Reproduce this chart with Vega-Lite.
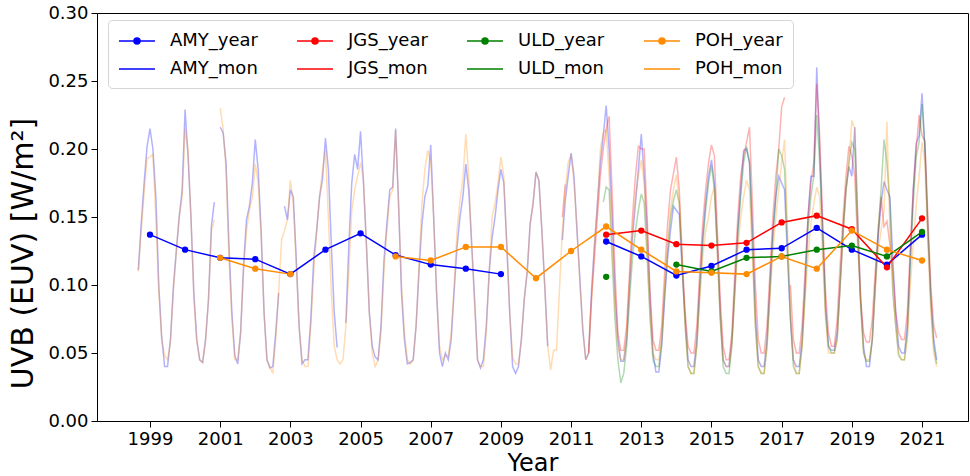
{
  "$schema": "https://vega.github.io/schema/vega-lite/v6.json",
  "width": 871,
  "height": 408,
  "autosize": "none",
  "padding": {"left": 97, "top": 13, "right": 2, "bottom": 55},
  "background": "white",
  "config": {
    "font": "DejaVu Sans",
    "view": {"stroke": "#000000", "strokeWidth": 1},
    "axis": {"grid": false, "domainColor": "#000000", "tickColor": "#000000", "labelColor": "#000000", "titleColor": "#000000", "labelFontSize": 18, "titleFontSize": 24, "titleFontWeight": "normal", "tickSize": 6, "labelFont": "DejaVu Sans", "titleFont": "DejaVu Sans"}
  },
  "datasets": {
    "mon": [
      {"t":1998.667,"AMY_mon":0.111,"POH_mon":0.110},
      {"t":1998.75,"AMY_mon":0.145,"POH_mon":0.140},
      {"t":1998.833,"AMY_mon":0.175,"POH_mon":0.168},
      {"t":1998.917,"AMY_mon":0.202,"POH_mon":0.193},
      {"t":1999,"AMY_mon":0.215,"POH_mon":0.194},
      {"t":1999.083,"AMY_mon":0.200,"POH_mon":0.196},
      {"t":1999.167,"AMY_mon":0.165,"POH_mon":0.150},
      {"t":1999.25,"AMY_mon":0.100,"POH_mon":0.095},
      {"t":1999.333,"AMY_mon":0.062,"POH_mon":0.060},
      {"t":1999.417,"AMY_mon":0.040,"POH_mon":0.048},
      {"t":1999.5,"AMY_mon":0.040,"POH_mon":0.045},
      {"t":1999.583,"AMY_mon":0.060,"POH_mon":0.058},
      {"t":1999.667,"AMY_mon":0.099,"POH_mon":0.095},
      {"t":1999.75,"AMY_mon":0.125,"POH_mon":0.125},
      {"t":1999.833,"AMY_mon":0.150,"POH_mon":0.150},
      {"t":1999.917,"AMY_mon":0.170,"POH_mon":0.165},
      {"t":2000,"AMY_mon":0.229,"POH_mon":0.215},
      {"t":2000.083,"AMY_mon":0.195,"POH_mon":0.200},
      {"t":2000.167,"AMY_mon":0.150,"POH_mon":0.150},
      {"t":2000.25,"AMY_mon":0.094,"POH_mon":0.090},
      {"t":2000.333,"AMY_mon":0.060,"POH_mon":0.058},
      {"t":2000.417,"AMY_mon":0.045,"POH_mon":0.045},
      {"t":2000.5,"AMY_mon":0.043,"POH_mon":0.043},
      {"t":2000.583,"AMY_mon":0.060,"POH_mon":0.058},
      {"t":2000.667,"AMY_mon":0.089,"POH_mon":0.090},
      {"t":2000.75,"AMY_mon":0.143,"POH_mon":0.140},
      {"t":2000.833,"AMY_mon":0.161,"POH_mon":0.148},
      {"t":2000.917,"AMY_mon":null,"POH_mon":null},
      {"t":2001,"AMY_mon":0.216,"POH_mon":0.230},
      {"t":2001.083,"AMY_mon":0.212,"POH_mon":0.215},
      {"t":2001.167,"AMY_mon":0.190,"POH_mon":0.185},
      {"t":2001.25,"AMY_mon":0.130,"POH_mon":0.120},
      {"t":2001.333,"AMY_mon":0.080,"POH_mon":0.075},
      {"t":2001.417,"AMY_mon":0.048,"POH_mon":0.045},
      {"t":2001.5,"AMY_mon":0.042,"POH_mon":0.045},
      {"t":2001.583,"AMY_mon":0.065,"POH_mon":0.065},
      {"t":2001.667,"AMY_mon":0.115,"POH_mon":0.110},
      {"t":2001.75,"AMY_mon":0.148,"POH_mon":0.140},
      {"t":2001.833,"AMY_mon":0.158,"POH_mon":0.155},
      {"t":2001.917,"AMY_mon":0.175,"POH_mon":0.165},
      {"t":2002,"AMY_mon":0.207,"POH_mon":0.189},
      {"t":2002.083,"AMY_mon":0.185,"POH_mon":0.175},
      {"t":2002.167,"AMY_mon":0.140,"POH_mon":0.135},
      {"t":2002.25,"AMY_mon":0.080,"POH_mon":0.080},
      {"t":2002.333,"AMY_mon":0.045,"POH_mon":0.045},
      {"t":2002.417,"AMY_mon":0.039,"POH_mon":0.040},
      {"t":2002.5,"AMY_mon":0.040,"POH_mon":0.035},
      {"t":2002.583,"AMY_mon":0.065,"POH_mon":0.060},
      {"t":2002.667,"AMY_mon":0.094,"POH_mon":0.095},
      {"t":2002.75,"AMY_mon":null,"POH_mon":0.133},
      {"t":2002.833,"AMY_mon":0.158,"POH_mon":0.140},
      {"t":2002.917,"AMY_mon":0.148,"POH_mon":0.148},
      {"t":2003,"AMY_mon":0.170,"POH_mon":0.177},
      {"t":2003.083,"AMY_mon":0.165,"POH_mon":0.160},
      {"t":2003.167,"AMY_mon":0.120,"POH_mon":0.115},
      {"t":2003.25,"AMY_mon":0.069,"POH_mon":0.070},
      {"t":2003.333,"AMY_mon":0.042,"POH_mon":0.045},
      {"t":2003.417,"AMY_mon":0.045,"POH_mon":0.040},
      {"t":2003.5,"AMY_mon":0.045,"POH_mon":0.040},
      {"t":2003.583,"AMY_mon":0.075,"POH_mon":0.070},
      {"t":2003.667,"AMY_mon":0.120,"POH_mon":0.110},
      {"t":2003.75,"AMY_mon":0.140,"POH_mon":0.140},
      {"t":2003.833,"AMY_mon":0.165,"POH_mon":0.165},
      {"t":2003.917,"AMY_mon":0.178,"POH_mon":0.185},
      {"t":2004,"AMY_mon":0.208,"POH_mon":0.199},
      {"t":2004.083,"AMY_mon":0.185,"POH_mon":0.150},
      {"t":2004.167,"AMY_mon":0.130,"POH_mon":0.095},
      {"t":2004.25,"AMY_mon":0.080,"POH_mon":0.055},
      {"t":2004.333,"AMY_mon":0.054,"POH_mon":0.045},
      {"t":2004.417,"AMY_mon":null,"POH_mon":0.042},
      {"t":2004.5,"AMY_mon":null,"POH_mon":0.045},
      {"t":2004.583,"AMY_mon":0.072,"POH_mon":0.070},
      {"t":2004.667,"AMY_mon":0.130,"POH_mon":0.110},
      {"t":2004.75,"AMY_mon":0.175,"POH_mon":0.155},
      {"t":2004.833,"AMY_mon":0.196,"POH_mon":0.170},
      {"t":2004.917,"AMY_mon":0.185,"POH_mon":0.180},
      {"t":2005,"AMY_mon":0.213,"POH_mon":0.190},
      {"t":2005.083,"AMY_mon":0.175,"POH_mon":0.178},
      {"t":2005.167,"AMY_mon":0.130,"POH_mon":0.130},
      {"t":2005.25,"AMY_mon":0.080,"POH_mon":0.080},
      {"t":2005.333,"AMY_mon":0.055,"POH_mon":0.050},
      {"t":2005.417,"AMY_mon":0.047,"POH_mon":0.040},
      {"t":2005.5,"AMY_mon":0.045,"POH_mon":0.045},
      {"t":2005.583,"AMY_mon":0.070,"POH_mon":0.065},
      {"t":2005.667,"AMY_mon":0.118,"POH_mon":0.110},
      {"t":2005.75,"AMY_mon":0.145,"POH_mon":0.140},
      {"t":2005.833,"AMY_mon":0.170,"POH_mon":0.165},
      {"t":2005.917,"AMY_mon":0.172,"POH_mon":0.170},
      {"t":2006,"AMY_mon":0.215,"POH_mon":0.214},
      {"t":2006.083,"AMY_mon":0.160,"POH_mon":0.160},
      {"t":2006.167,"AMY_mon":0.094,"POH_mon":0.100},
      {"t":2006.25,"AMY_mon":0.060,"POH_mon":0.065},
      {"t":2006.333,"AMY_mon":0.042,"POH_mon":0.045},
      {"t":2006.417,"AMY_mon":0.043,"POH_mon":0.042},
      {"t":2006.5,"AMY_mon":0.045,"POH_mon":0.045},
      {"t":2006.583,"AMY_mon":0.070,"POH_mon":0.070},
      {"t":2006.667,"AMY_mon":0.110,"POH_mon":0.115},
      {"t":2006.75,"AMY_mon":0.145,"POH_mon":0.160},
      {"t":2006.833,"AMY_mon":0.165,"POH_mon":0.185},
      {"t":2006.917,"AMY_mon":0.173,"POH_mon":0.199},
      {"t":2007,"AMY_mon":0.203,"POH_mon":0.190},
      {"t":2007.083,"AMY_mon":0.150,"POH_mon":0.150},
      {"t":2007.167,"AMY_mon":0.094,"POH_mon":0.095},
      {"t":2007.25,"AMY_mon":0.050,"POH_mon":0.055},
      {"t":2007.333,"AMY_mon":0.040,"POH_mon":0.045},
      {"t":2007.417,"AMY_mon":0.050,"POH_mon":0.048},
      {"t":2007.5,"AMY_mon":0.045,"POH_mon":0.048},
      {"t":2007.583,"AMY_mon":0.060,"POH_mon":0.065},
      {"t":2007.667,"AMY_mon":0.095,"POH_mon":0.100},
      {"t":2007.75,"AMY_mon":0.128,"POH_mon":0.140},
      {"t":2007.833,"AMY_mon":0.150,"POH_mon":0.162},
      {"t":2007.917,"AMY_mon":0.165,"POH_mon":0.178},
      {"t":2008,"AMY_mon":0.189,"POH_mon":0.211},
      {"t":2008.083,"AMY_mon":0.170,"POH_mon":0.180},
      {"t":2008.167,"AMY_mon":0.130,"POH_mon":0.130},
      {"t":2008.25,"AMY_mon":0.090,"POH_mon":0.085},
      {"t":2008.333,"AMY_mon":0.045,"POH_mon":0.045},
      {"t":2008.417,"AMY_mon":0.039,"POH_mon":0.040},
      {"t":2008.5,"AMY_mon":0.045,"POH_mon":0.040},
      {"t":2008.583,"AMY_mon":0.070,"POH_mon":0.065},
      {"t":2008.667,"AMY_mon":0.110,"POH_mon":0.110},
      {"t":2008.75,"AMY_mon":0.135,"POH_mon":0.150},
      {"t":2008.833,"AMY_mon":0.150,"POH_mon":0.160},
      {"t":2008.917,"AMY_mon":0.170,"POH_mon":0.175},
      {"t":2009,"AMY_mon":0.185,"POH_mon":0.194},
      {"t":2009.083,"AMY_mon":0.175,"POH_mon":0.180},
      {"t":2009.167,"AMY_mon":0.130,"POH_mon":0.130},
      {"t":2009.25,"AMY_mon":0.080,"POH_mon":0.080},
      {"t":2009.333,"AMY_mon":0.040,"POH_mon":0.047},
      {"t":2009.417,"AMY_mon":0.035,"POH_mon":0.042},
      {"t":2009.5,"AMY_mon":0.040,"POH_mon":0.042},
      {"t":2009.583,"AMY_mon":0.060,"POH_mon":0.060},
      {"t":2009.667,"AMY_mon":0.090,"POH_mon":0.090},
      {"t":2009.75,"AMY_mon":0.110,"POH_mon":0.110},
      {"t":2009.833,"AMY_mon":0.145,"POH_mon":0.145},
      {"t":2009.917,"AMY_mon":0.160,"POH_mon":0.160},
      {"t":2010,"AMY_mon":0.183,"POH_mon":0.183},
      {"t":2010.083,"AMY_mon":0.177,"POH_mon":0.177},
      {"t":2010.167,"AMY_mon":0.140,"POH_mon":0.140},
      {"t":2010.25,"AMY_mon":0.099,"POH_mon":0.099},
      {"t":2010.333,"AMY_mon":0.055,"POH_mon":0.055},
      {"t":2010.417,"AMY_mon":null,"POH_mon":0.0375},
      {"t":2010.5,"AMY_mon":null,"POH_mon":0.052},
      {"t":2010.583,"AMY_mon":null,"POH_mon":0.052},
      {"t":2010.667,"AMY_mon":null,"POH_mon":0.096},
      {"t":2010.75,"AMY_mon":0.133,"JGS_mon":0.150,"POH_mon":0.140},
      {"t":2010.833,"AMY_mon":0.162,"JGS_mon":0.174,"POH_mon":0.170},
      {"t":2010.917,"AMY_mon":0.180,"JGS_mon":null,"POH_mon":0.190},
      {"t":2011,"AMY_mon":0.197,"POH_mon":0.196},
      {"t":2011.083,"AMY_mon":0.180,"POH_mon":0.175},
      {"t":2011.167,"AMY_mon":0.140,"POH_mon":0.143},
      {"t":2011.25,"AMY_mon":0.105,"POH_mon":0.100},
      {"t":2011.333,"AMY_mon":0.067,"POH_mon":0.068},
      {"t":2011.417,"AMY_mon":0.045,"POH_mon":0.045},
      {"t":2011.5,"AMY_mon":0.050,"JGS_mon":0.050,"POH_mon":0.050},
      {"t":2011.583,"AMY_mon":0.096,"JGS_mon":0.090,"POH_mon":0.090},
      {"t":2011.667,"AMY_mon":0.130,"JGS_mon":0.120,"POH_mon":0.130},
      {"t":2011.75,"AMY_mon":0.160,"JGS_mon":0.150,"POH_mon":0.158},
      {"t":2011.833,"AMY_mon":0.190,"JGS_mon":0.180,"POH_mon":0.200},
      {"t":2011.917,"AMY_mon":0.210,"JGS_mon":0.200,"ULD_mon":0.161,"POH_mon":0.212},
      {"t":2012,"AMY_mon":0.232,"JGS_mon":0.215,"ULD_mon":0.172,"POH_mon":0.214},
      {"t":2012.083,"AMY_mon":0.200,"JGS_mon":0.224,"ULD_mon":0.170,"POH_mon":0.180},
      {"t":2012.167,"AMY_mon":0.150,"JGS_mon":0.170,"ULD_mon":0.120,"POH_mon":0.130},
      {"t":2012.25,"AMY_mon":0.095,"JGS_mon":0.110,"ULD_mon":0.075,"POH_mon":0.085},
      {"t":2012.333,"AMY_mon":0.060,"JGS_mon":0.065,"ULD_mon":0.045,"POH_mon":0.055},
      {"t":2012.417,"AMY_mon":0.044,"JGS_mon":0.052,"ULD_mon":0.028,"POH_mon":0.045},
      {"t":2012.5,"AMY_mon":0.044,"JGS_mon":0.052,"ULD_mon":0.035,"POH_mon":0.045},
      {"t":2012.583,"AMY_mon":0.060,"JGS_mon":0.070,"ULD_mon":0.055,"POH_mon":0.065},
      {"t":2012.667,"AMY_mon":0.100,"JGS_mon":0.110,"ULD_mon":0.090,"POH_mon":0.105},
      {"t":2012.75,"AMY_mon":0.135,"JGS_mon":0.150,"ULD_mon":0.120,"POH_mon":0.140},
      {"t":2012.833,"AMY_mon":0.160,"JGS_mon":0.180,"ULD_mon":0.140,"POH_mon":0.165},
      {"t":2012.917,"AMY_mon":0.185,"JGS_mon":0.202,"ULD_mon":0.155,"POH_mon":0.180},
      {"t":2013,"AMY_mon":0.211,"JGS_mon":0.200,"ULD_mon":0.167,"POH_mon":0.192},
      {"t":2013.083,"AMY_mon":0.180,"JGS_mon":0.200,"ULD_mon":0.160,"POH_mon":0.175},
      {"t":2013.167,"AMY_mon":0.140,"JGS_mon":0.150,"ULD_mon":0.120,"POH_mon":0.125},
      {"t":2013.25,"AMY_mon":0.090,"JGS_mon":0.095,"ULD_mon":0.075,"POH_mon":0.080},
      {"t":2013.333,"AMY_mon":0.050,"JGS_mon":0.060,"ULD_mon":0.045,"POH_mon":0.050},
      {"t":2013.417,"AMY_mon":0.036,"JGS_mon":0.052,"ULD_mon":0.040,"POH_mon":0.045},
      {"t":2013.5,"AMY_mon":0.036,"JGS_mon":0.052,"ULD_mon":0.040,"POH_mon":0.045},
      {"t":2013.583,"AMY_mon":0.055,"JGS_mon":0.070,"ULD_mon":0.060,"POH_mon":0.060},
      {"t":2013.667,"AMY_mon":0.090,"JGS_mon":0.110,"ULD_mon":0.095,"POH_mon":0.100},
      {"t":2013.75,"AMY_mon":0.120,"JGS_mon":0.145,"ULD_mon":0.125,"POH_mon":0.130},
      {"t":2013.833,"AMY_mon":0.140,"JGS_mon":0.170,"ULD_mon":0.150,"POH_mon":0.155},
      {"t":2013.917,"AMY_mon":0.158,"JGS_mon":0.182,"ULD_mon":0.162,"POH_mon":0.170},
      {"t":2014,"AMY_mon":0.155,"JGS_mon":0.194,"ULD_mon":0.170,"POH_mon":0.181},
      {"t":2014.083,"AMY_mon":0.152,"JGS_mon":0.170,"ULD_mon":0.160,"POH_mon":0.160},
      {"t":2014.167,"AMY_mon":0.110,"JGS_mon":0.120,"ULD_mon":0.115,"POH_mon":0.115},
      {"t":2014.25,"AMY_mon":0.075,"JGS_mon":0.080,"ULD_mon":0.070,"POH_mon":0.070},
      {"t":2014.333,"AMY_mon":0.045,"JGS_mon":0.055,"ULD_mon":0.040,"POH_mon":0.040},
      {"t":2014.417,"AMY_mon":0.040,"JGS_mon":0.050,"ULD_mon":0.035,"POH_mon":0.035},
      {"t":2014.5,"AMY_mon":0.040,"JGS_mon":0.050,"ULD_mon":0.035,"POH_mon":0.035},
      {"t":2014.583,"AMY_mon":0.060,"JGS_mon":0.070,"ULD_mon":0.055,"POH_mon":0.055},
      {"t":2014.667,"AMY_mon":0.100,"JGS_mon":0.110,"ULD_mon":0.095,"POH_mon":0.090},
      {"t":2014.75,"AMY_mon":0.135,"JGS_mon":0.145,"ULD_mon":0.130,"POH_mon":0.120},
      {"t":2014.833,"AMY_mon":0.160,"JGS_mon":0.170,"ULD_mon":0.155,"POH_mon":0.140},
      {"t":2014.917,"AMY_mon":0.180,"JGS_mon":0.190,"ULD_mon":0.175,"POH_mon":0.150},
      {"t":2015,"AMY_mon":0.192,"JGS_mon":0.203,"ULD_mon":0.188,"POH_mon":0.165},
      {"t":2015.083,"AMY_mon":0.175,"JGS_mon":0.195,"ULD_mon":0.170,"POH_mon":0.172},
      {"t":2015.167,"AMY_mon":0.130,"JGS_mon":0.140,"ULD_mon":0.125,"POH_mon":0.125},
      {"t":2015.25,"AMY_mon":0.080,"JGS_mon":0.090,"ULD_mon":0.075,"POH_mon":0.075},
      {"t":2015.333,"AMY_mon":0.045,"JGS_mon":0.055,"ULD_mon":0.040,"POH_mon":0.045},
      {"t":2015.417,"AMY_mon":0.040,"JGS_mon":0.045,"ULD_mon":0.035,"POH_mon":0.040},
      {"t":2015.5,"AMY_mon":0.040,"JGS_mon":0.045,"ULD_mon":0.035,"POH_mon":0.040},
      {"t":2015.583,"AMY_mon":0.060,"JGS_mon":0.065,"ULD_mon":0.055,"POH_mon":0.058},
      {"t":2015.667,"AMY_mon":0.100,"JGS_mon":0.110,"ULD_mon":0.095,"POH_mon":0.095},
      {"t":2015.75,"AMY_mon":0.140,"JGS_mon":0.150,"ULD_mon":0.135,"POH_mon":0.125},
      {"t":2015.833,"AMY_mon":0.170,"JGS_mon":0.180,"ULD_mon":0.165,"POH_mon":0.150},
      {"t":2015.917,"AMY_mon":0.199,"JGS_mon":0.195,"ULD_mon":0.190,"POH_mon":0.165},
      {"t":2016,"AMY_mon":0.200,"JGS_mon":0.205,"ULD_mon":0.202,"POH_mon":0.177},
      {"t":2016.083,"AMY_mon":0.190,"JGS_mon":0.216,"ULD_mon":0.190,"POH_mon":0.170},
      {"t":2016.167,"AMY_mon":0.140,"JGS_mon":0.160,"ULD_mon":0.130,"POH_mon":0.120},
      {"t":2016.25,"AMY_mon":0.080,"JGS_mon":0.100,"ULD_mon":0.070,"POH_mon":0.070},
      {"t":2016.333,"AMY_mon":0.045,"JGS_mon":0.060,"ULD_mon":0.040,"POH_mon":0.040},
      {"t":2016.417,"AMY_mon":0.040,"JGS_mon":0.050,"ULD_mon":0.035,"POH_mon":0.035},
      {"t":2016.5,"AMY_mon":0.040,"JGS_mon":0.050,"ULD_mon":0.035,"POH_mon":0.035},
      {"t":2016.583,"AMY_mon":0.060,"JGS_mon":0.070,"ULD_mon":0.055,"POH_mon":0.055},
      {"t":2016.667,"AMY_mon":0.100,"JGS_mon":0.110,"ULD_mon":0.095,"POH_mon":0.090},
      {"t":2016.75,"AMY_mon":0.140,"JGS_mon":0.150,"ULD_mon":0.135,"POH_mon":0.125},
      {"t":2016.833,"AMY_mon":0.165,"JGS_mon":0.180,"ULD_mon":0.165,"POH_mon":0.150},
      {"t":2016.917,"AMY_mon":0.180,"JGS_mon":0.200,"ULD_mon":0.200,"POH_mon":0.170},
      {"t":2017,"AMY_mon":0.175,"JGS_mon":0.231,"ULD_mon":0.195,"POH_mon":0.190},
      {"t":2017.083,"AMY_mon":0.170,"JGS_mon":0.238,"ULD_mon":0.185,"POH_mon":0.207},
      {"t":2017.167,"AMY_mon":0.120,"JGS_mon":null,"ULD_mon":0.130,"POH_mon":0.140},
      {"t":2017.25,"AMY_mon":0.075,"JGS_mon":0.100,"ULD_mon":0.075,"POH_mon":0.080},
      {"t":2017.333,"AMY_mon":0.045,"JGS_mon":0.060,"ULD_mon":0.040,"POH_mon":0.045},
      {"t":2017.417,"AMY_mon":0.040,"JGS_mon":0.050,"ULD_mon":0.035,"POH_mon":0.035},
      {"t":2017.5,"AMY_mon":0.040,"JGS_mon":0.050,"ULD_mon":0.035,"POH_mon":0.035},
      {"t":2017.583,"AMY_mon":0.060,"JGS_mon":0.070,"ULD_mon":0.055,"POH_mon":0.055},
      {"t":2017.667,"AMY_mon":0.100,"JGS_mon":0.110,"ULD_mon":0.095,"POH_mon":0.090},
      {"t":2017.75,"AMY_mon":0.150,"JGS_mon":0.150,"ULD_mon":0.140,"POH_mon":0.120},
      {"t":2017.833,"AMY_mon":0.180,"JGS_mon":0.175,"ULD_mon":0.165,"POH_mon":0.145},
      {"t":2017.917,"AMY_mon":0.180,"JGS_mon":0.190,"ULD_mon":0.180,"POH_mon":0.160},
      {"t":2018,"AMY_mon":0.260,"JGS_mon":0.248,"ULD_mon":0.225,"POH_mon":0.172},
      {"t":2018.083,"AMY_mon":0.200,"JGS_mon":0.210,"ULD_mon":0.190,"POH_mon":0.165},
      {"t":2018.167,"AMY_mon":0.140,"JGS_mon":0.150,"ULD_mon":0.135,"POH_mon":0.120},
      {"t":2018.25,"AMY_mon":0.085,"JGS_mon":0.095,"ULD_mon":0.080,"POH_mon":0.075},
      {"t":2018.333,"AMY_mon":0.055,"JGS_mon":0.065,"ULD_mon":0.055,"POH_mon":0.050},
      {"t":2018.417,"AMY_mon":0.052,"JGS_mon":0.055,"ULD_mon":0.050,"POH_mon":0.050},
      {"t":2018.5,"AMY_mon":0.052,"JGS_mon":0.055,"ULD_mon":0.050,"POH_mon":0.050},
      {"t":2018.583,"AMY_mon":0.065,"JGS_mon":0.075,"ULD_mon":0.060,"POH_mon":0.060},
      {"t":2018.667,"AMY_mon":0.100,"JGS_mon":0.115,"ULD_mon":0.100,"POH_mon":0.100},
      {"t":2018.75,"AMY_mon":0.140,"JGS_mon":0.150,"ULD_mon":0.140,"POH_mon":0.135},
      {"t":2018.833,"AMY_mon":0.170,"JGS_mon":0.180,"ULD_mon":0.170,"POH_mon":0.170},
      {"t":2018.917,"AMY_mon":0.187,"JGS_mon":0.202,"ULD_mon":0.190,"POH_mon":0.190},
      {"t":2019,"AMY_mon":0.180,"JGS_mon":0.195,"ULD_mon":0.205,"POH_mon":0.221},
      {"t":2019.083,"AMY_mon":0.216,"JGS_mon":0.180,"ULD_mon":0.200,"POH_mon":0.215},
      {"t":2019.167,"AMY_mon":0.150,"JGS_mon":0.130,"ULD_mon":0.140,"POH_mon":0.150},
      {"t":2019.25,"AMY_mon":0.090,"JGS_mon":0.090,"ULD_mon":0.085,"POH_mon":0.090},
      {"t":2019.333,"AMY_mon":0.055,"JGS_mon":0.065,"ULD_mon":0.050,"POH_mon":0.050},
      {"t":2019.417,"AMY_mon":0.040,"JGS_mon":0.058,"ULD_mon":0.044,"POH_mon":0.045},
      {"t":2019.5,"AMY_mon":0.040,"JGS_mon":0.058,"ULD_mon":0.044,"POH_mon":0.045},
      {"t":2019.583,"AMY_mon":0.060,"JGS_mon":0.075,"ULD_mon":0.060,"POH_mon":0.060},
      {"t":2019.667,"AMY_mon":0.100,"JGS_mon":0.110,"ULD_mon":0.100,"POH_mon":0.095},
      {"t":2019.75,"AMY_mon":0.135,"JGS_mon":0.140,"ULD_mon":0.140,"POH_mon":0.125},
      {"t":2019.833,"AMY_mon":0.160,"JGS_mon":0.165,"ULD_mon":0.170,"POH_mon":0.140},
      {"t":2019.917,"AMY_mon":0.176,"JGS_mon":0.143,"ULD_mon":0.207,"POH_mon":0.155},
      {"t":2020,"AMY_mon":0.170,"JGS_mon":0.147,"ULD_mon":0.190,"POH_mon":0.220},
      {"t":2020.083,"AMY_mon":0.165,"JGS_mon":0.130,"ULD_mon":0.160,"POH_mon":0.140},
      {"t":2020.167,"AMY_mon":0.120,"JGS_mon":0.110,"ULD_mon":0.094,"POH_mon":0.100},
      {"t":2020.25,"AMY_mon":0.080,"JGS_mon":0.080,"ULD_mon":0.070,"POH_mon":0.070},
      {"t":2020.333,"AMY_mon":0.055,"JGS_mon":0.065,"ULD_mon":0.048,"POH_mon":0.050},
      {"t":2020.417,"AMY_mon":0.050,"JGS_mon":0.060,"ULD_mon":0.045,"POH_mon":0.045},
      {"t":2020.5,"AMY_mon":0.050,"JGS_mon":0.060,"ULD_mon":0.045,"POH_mon":0.045},
      {"t":2020.583,"AMY_mon":0.070,"JGS_mon":0.080,"ULD_mon":0.065,"POH_mon":0.060},
      {"t":2020.667,"AMY_mon":0.120,"JGS_mon":0.130,"ULD_mon":0.115,"POH_mon":0.100},
      {"t":2020.75,"AMY_mon":0.170,"JGS_mon":0.170,"ULD_mon":0.160,"POH_mon":0.130},
      {"t":2020.833,"AMY_mon":0.204,"JGS_mon":0.200,"ULD_mon":0.194,"POH_mon":0.158},
      {"t":2020.917,"AMY_mon":0.210,"JGS_mon":0.225,"ULD_mon":0.205,"POH_mon":0.180},
      {"t":2021,"AMY_mon":0.241,"JGS_mon":0.210,"ULD_mon":0.233,"POH_mon":0.205},
      {"t":2021.083,"AMY_mon":0.200,"JGS_mon":0.206,"ULD_mon":0.200,"POH_mon":0.190},
      {"t":2021.167,"AMY_mon":0.140,"JGS_mon":0.150,"ULD_mon":0.140,"POH_mon":0.130},
      {"t":2021.25,"AMY_mon":0.090,"JGS_mon":0.100,"ULD_mon":0.090,"POH_mon":0.080},
      {"t":2021.333,"AMY_mon":0.060,"JGS_mon":0.070,"ULD_mon":0.055,"POH_mon":0.050},
      {"t":2021.417,"AMY_mon":0.045,"JGS_mon":0.061,"ULD_mon":0.042,"POH_mon":0.040}
    ],
    "yr": [
      {"t":1999,"AMY_year":0.137,"POH_year":null},
      {"t":2000,"AMY_year":0.126,"POH_year":null},
      {"t":2001,"AMY_year":0.120,"POH_year":0.120},
      {"t":2002,"AMY_year":0.119,"POH_year":0.112},
      {"t":2003,"AMY_year":0.108,"POH_year":0.108},
      {"t":2004,"AMY_year":0.126,"POH_year":null},
      {"t":2005,"AMY_year":0.138,"POH_year":null},
      {"t":2006,"AMY_year":0.122,"POH_year":0.121},
      {"t":2007,"AMY_year":0.115,"POH_year":0.118},
      {"t":2008,"AMY_year":0.112,"POH_year":0.128},
      {"t":2009,"AMY_year":0.108,"POH_year":0.128},
      {"t":2010,"AMY_year":null,"POH_year":0.105},
      {"t":2011,"AMY_year":null,"POH_year":0.125},
      {"t":2012,"AMY_year":0.132,"JGS_year":0.137,"ULD_year":0.106,"POH_year":0.143},
      {"t":2013,"AMY_year":0.121,"JGS_year":0.140,"ULD_year":null,"POH_year":0.126},
      {"t":2014,"AMY_year":0.107,"JGS_year":0.130,"ULD_year":0.115,"POH_year":0.110},
      {"t":2015,"AMY_year":0.114,"JGS_year":0.129,"ULD_year":0.110,"POH_year":0.109},
      {"t":2016,"AMY_year":0.126,"JGS_year":0.131,"ULD_year":0.120,"POH_year":0.108},
      {"t":2017,"AMY_year":0.127,"JGS_year":0.146,"ULD_year":0.121,"POH_year":0.121},
      {"t":2018,"AMY_year":0.142,"JGS_year":0.151,"ULD_year":0.126,"POH_year":0.112},
      {"t":2019,"AMY_year":0.126,"JGS_year":0.141,"ULD_year":0.129,"POH_year":0.140},
      {"t":2020,"AMY_year":0.115,"JGS_year":0.113,"ULD_year":0.121,"POH_year":0.126},
      {"t":2021,"AMY_year":0.137,"JGS_year":0.149,"ULD_year":0.139,"POH_year":0.118}
    ]
  },
  "encoding": {
    "x": {"field": "t", "type": "quantitative", "scale": {"domain": [1997.49, 2022.31], "nice": false, "zero": false},
      "axis": {"values": [1999,2001,2003,2005,2007,2009,2011,2013,2015,2017,2019,2021], "format": "d", "title": "Year", "labelPadding": 3, "titlePadding": 3, "labelFlush": false}},
    "y": {"field": "v", "type": "quantitative", "scale": {"domain": [0, 0.3], "nice": false, "zero": true},
      "axis": {"values": [0,0.05,0.1,0.15,0.2,0.25,0.3], "format": ".2f", "title": "UVB (EUV) [W/m²]", "labelPadding": 3, "labelFlush": false,
        "titleFontSize": 30, "titleX": -65, "titleY": 240, "titleBaseline": "alphabetic", "titleAlign": "center", "titleAngle": 270}},
    "color": {"field": "s", "type": "nominal",
      "scale": {"domain": ["AMY_year","AMY_mon","JGS_year","JGS_mon","ULD_year","ULD_mon","POH_year","POH_mon"],
                "range": ["#0000ff","#0000ff","#ff0000","#ff0000","#008000","#008000","#ff8c00","#ff8c00"]},
      "legend": {"orient": "none", "legendX": 11, "legendY": 7, "columns": 4, "title": null,
        "labelFontSize": 18, "labelFont": "DejaVu Sans", "labelColor": "#000000",
        "symbolSize": 400, "labelOffset": 30, "columnPadding": 36, "rowPadding": 8, "padding": 10,
        "strokeColor": "#d5d5d5", "fillColor": "#ffffff", "cornerRadius": 4,
        "encode": {"symbols": {"update": {
          "shape": {"signal": "indexof(datum.value,'year')>0 ? 'M-1,0H2.6M0.5,0A0.3,0.3,0,1,1,1.1,0A0.3,0.3,0,1,1,0.5,0Z' : 'M-1,0H2.6'"},
          "fill": {"signal": "indexof(datum.value,'year')>0 ? scale('color',datum.value) : 'transparent'"},
          "stroke": {"signal": "indexof(datum.value,'year')>0 ? scale('color',datum.value) : (datum.value=='AMY_mon' ? '#b3b3ff' : datum.value=='JGS_mon' ? '#ffb3b3' : datum.value=='ULD_mon' ? '#b3d9b3' : '#ffddb3')"},
          "strokeOpacity": {"value": 1},
          "opacity": {"value": 1},
          "strokeWidth": {"value": 1.5}
        }}}}}
  },
  "layer": [
    {
      "data": {"name": "mon"},
      "transform": [{"fold": ["AMY_mon","JGS_mon","ULD_mon","POH_mon"], "as": ["s","v"]}],
      "mark": {"type": "line", "strokeWidth": 1.5, "opacity": 0.3}
    },
    {
      "data": {"name": "yr"},
      "transform": [{"fold": ["AMY_year","JGS_year","ULD_year","POH_year"], "as": ["s","v"]}],
      "mark": {"type": "line", "strokeWidth": 1.5, "point": {"filled": true, "size": 40}}
    }
  ]
}
